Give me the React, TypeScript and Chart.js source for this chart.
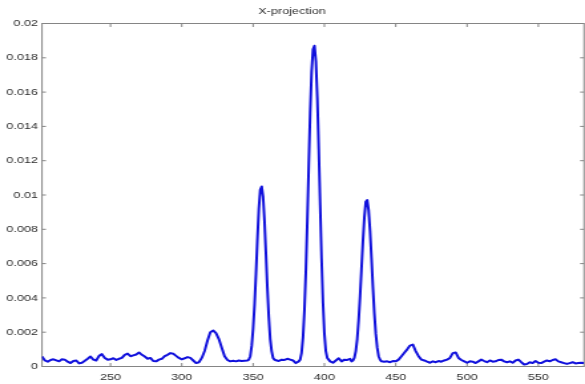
import React, { useEffect, useRef } from "react";
import { Chart, registerables } from "chart.js";

Chart.register(...registerables);

const titleText = "X-projection";

const xs = [
  202, 204, 206, 208, 210, 212, 214, 216, 218, 220, 222, 224, 226, 228, 230, 232, 234, 236, 238, 240,
  242, 244, 246, 248, 250, 252, 254, 256, 258, 260, 262, 264, 266, 268, 270, 272, 274, 276, 278, 280,
  282, 284, 286, 288, 290, 292, 294, 296, 298, 300, 302, 304, 306, 308, 310, 312, 314, 316, 318, 320,
  322, 324, 326, 328, 330, 332, 334, 336, 338, 340, 342, 344,
  346, 347, 348, 349, 350, 351, 352, 353, 354, 355, 356, 357, 358, 359, 360, 361, 362, 363, 364, 365,
  366, 368, 370, 372, 374, 376, 378, 380, 381,
  382, 383, 384, 385, 386, 387, 388, 389, 390, 391, 392, 393, 394, 395, 396, 397, 398, 399, 400, 401, 402, 403,
  404, 406, 408, 410, 412, 414, 416, 418,
  419, 420, 421, 422, 423, 424, 425, 426, 427, 428, 429, 430, 431, 432, 433, 434, 435, 436, 437, 438, 439, 440,
  442, 444, 446, 448, 450, 452, 454, 456, 458, 460, 462, 464, 466, 468, 470, 472, 474, 476, 478, 480,
  482, 484, 486, 488, 490, 492, 494, 496, 498, 500, 502, 504, 506, 508, 510, 512, 514, 516, 518, 520,
  522, 524, 526, 528, 530, 532, 534, 536, 538, 540, 542, 544, 546, 548, 550, 552, 554, 556, 558, 560,
  562, 564, 566, 568, 570, 572, 574, 576, 578, 580, 582,
];

const ys = [
  0.00058, 0.00035, 0.00028, 0.00038, 0.00042, 0.00036, 0.0003, 0.00042, 0.0004, 0.00028,
  0.0002, 0.00032, 0.00035, 0.00018, 0.00022, 0.00033, 0.00045, 0.00058, 0.0004, 0.00035,
  0.00062, 0.00072, 0.0005, 0.0004, 0.00042, 0.00048, 0.00038, 0.00045, 0.0005, 0.00068,
  0.00075, 0.0006, 0.00065, 0.0007, 0.00082, 0.00068, 0.00058, 0.00045, 0.0005, 0.00032,
  0.0003, 0.0004, 0.00045, 0.0006, 0.00068, 0.00078, 0.00074, 0.00062, 0.0005, 0.00042,
  0.00048, 0.00055, 0.0005, 0.00035, 0.0002, 0.00025, 0.0005, 0.0009, 0.0015, 0.002,
  0.0021, 0.00195, 0.0016, 0.0011, 0.0006, 0.00038, 0.0003, 0.00033, 0.0003, 0.00035,
  0.00032, 0.00034,
  0.00035, 0.0004, 0.0006, 0.0012, 0.0022, 0.0036, 0.0054, 0.0074, 0.0092, 0.0103,
  0.0105, 0.0099, 0.0085, 0.0066, 0.0046, 0.0029, 0.0016, 0.0009, 0.0005, 0.0004,
  0.00036, 0.00032, 0.0004, 0.00038, 0.00045, 0.0004, 0.00035, 0.0002, 0.00025,
  0.0003, 0.0004, 0.0008, 0.0017, 0.0033, 0.0056, 0.0085, 0.0117, 0.0148, 0.0172,
  0.0185, 0.0187, 0.0178, 0.0157, 0.0127, 0.0094, 0.0063, 0.0037, 0.0019, 0.0009,
  0.0005, 0.0004,
  0.0003, 0.00022, 0.00035, 0.00048, 0.0003, 0.0004, 0.00038, 0.00045,
  0.0003, 0.00035, 0.0005, 0.0009, 0.0016, 0.0027, 0.0041, 0.0057, 0.0073, 0.0087,
  0.0096, 0.0097, 0.0091, 0.0079, 0.0063, 0.0046, 0.0031, 0.0019, 0.0011, 0.0006,
  0.0004, 0.0003,
  0.00028, 0.0003, 0.00025, 0.00032, 0.0003, 0.0004, 0.0006, 0.0008, 0.001, 0.00122,
  0.00128, 0.0009, 0.0006, 0.0004, 0.00035, 0.00028, 0.00022, 0.0003, 0.00025, 0.00032,
  0.00028, 0.00035, 0.0004, 0.0005, 0.00078, 0.00082, 0.0005, 0.00038, 0.0003, 0.00022,
  0.0003, 0.00028, 0.0002, 0.0003, 0.0004, 0.00032, 0.00025, 0.00035, 0.00028, 0.0003,
  0.00038, 0.0004, 0.0003, 0.00025, 0.0003, 0.00022, 0.00035, 0.0004, 0.00025, 0.00012,
  0.00015, 0.00025, 0.0002, 0.00032, 0.00022, 0.0002, 0.00028, 0.00035, 0.0003, 0.00038,
  0.00042, 0.0003, 0.00025, 0.0002, 0.00015, 0.0002, 0.00025, 0.00018, 0.0002, 0.00022, 0.0002,
];

const xTicks = [250, 300, 350, 400, 450, 500, 550];
const yTicks = [0, 0.002, 0.004, 0.006, 0.008, 0.01, 0.012, 0.014, 0.016, 0.018, 0.02];

const X_MIN = 202;
const X_MAX = 582;
const Y_MIN = 0;
const Y_MAX = 0.02;

// the reference is a horizontally stretched figure: draw narrower, stretch with CSS
const OUT_W = 585;
const OUT_H = 384;
const IN_W = 440;

const FONT = { family: "'Liberation Sans', Arial, Helvetica, sans-serif", size: 9.5 };
const AXIS_COLOR = "#858585";
const TEXT_COLOR = "#2e2e2e";

const boxPlugin = {
  id: "matlabBox",
  beforeDatasetsDraw(chart: any) {
    const { ctx, chartArea: a, scales } = chart;
    ctx.save();
    ctx.strokeStyle = AXIS_COLOR;
    ctx.lineWidth = 1;
    ctx.strokeRect(a.left, a.top, a.right - a.left, a.bottom - a.top);
    ctx.beginPath();
    for (const v of xTicks) {
      const px = scales.x.getPixelForValue(v);
      ctx.moveTo(px, a.bottom);
      ctx.lineTo(px, a.bottom - 3.5);
      ctx.moveTo(px, a.top);
      ctx.lineTo(px, a.top + 3.5);
    }
    for (const v of yTicks) {
      const py = scales.y.getPixelForValue(v);
      ctx.moveTo(a.left, py);
      ctx.lineTo(a.left + 3, py);
      ctx.moveTo(a.right, py);
      ctx.lineTo(a.right - 3, py);
    }
    ctx.stroke();
    ctx.restore();
  },
};

function fmt(v: number): string {
  return String(parseFloat(Number(v).toFixed(4)));
}

export default function App() {
  const ref = useRef<HTMLCanvasElement | null>(null);

  useEffect(() => {
    const canvas = ref.current;
    if (!canvas) return;
    const chart = new Chart(canvas, {
      type: "line",
      data: {
        datasets: [
          {
            data: xs.map((x, i) => ({ x, y: ys[i] })),
            borderColor: "#1010dc",
            borderWidth: 2,
            pointRadius: 0,
            tension: 0,
            borderJoinStyle: "round",
            fill: false,
          },
        ],
      },
      options: {
        responsive: false,
        animation: false,
        devicePixelRatio: 1,
        layout: { padding: { left: 0, right: 0.75, top: 0, bottom: 0 } },
        plugins: {
          legend: { display: false },
          tooltip: { enabled: false },
          title: {
            display: true,
            text: titleText,
            color: TEXT_COLOR,
            font: { ...FONT, weight: "normal" },
            padding: { top: 6, bottom: 6.1 },
          },
        },
        scales: {
          x: {
            type: "linear",
            min: X_MIN,
            max: X_MAX,
            grid: { display: false, drawTicks: false },
            border: { display: false },
            ticks: {
              color: TEXT_COLOR,
              font: FONT,
              padding: 5,
              maxRotation: 0,
              autoSkip: false,
              callback: (v: any) => fmt(v),
            },
            afterBuildTicks: (s: any) => {
              s.ticks = xTicks.map((value) => ({ value }));
            },
            afterFit: (s: any) => {
              s.height = 17.5;
            },
          },
          y: {
            type: "linear",
            min: Y_MIN,
            max: Y_MAX,
            grid: { display: false, drawTicks: false },
            border: { display: false },
            ticks: {
              color: TEXT_COLOR,
              font: FONT,
              padding: 3,
              autoSkip: false,
              callback: (v: any) => fmt(v),
            },
            afterBuildTicks: (s: any) => {
              s.ticks = yTicks.map((value) => ({ value }));
            },
            afterFit: (s: any) => {
              s.width = 42 * (IN_W / OUT_W);
            },
          },
        },
      },
      plugins: [boxPlugin],
    } as any);
    return () => chart.destroy();
  }, []);

  return (
    <div style={{ position: "fixed", left: 0, top: 0, width: OUT_W, height: OUT_H, background: "#fff" }}>
      <canvas
        ref={ref}
        width={IN_W}
        height={OUT_H}
        style={{ width: OUT_W + "px", height: OUT_H + "px", display: "block" }}
      />
    </div>
  );
}
